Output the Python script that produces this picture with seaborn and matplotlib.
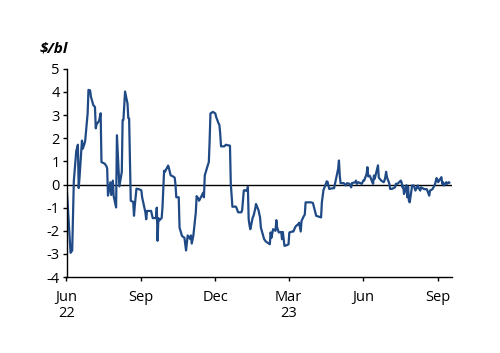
import matplotlib
matplotlib.use("Agg")
import matplotlib.pyplot as plt
import seaborn as sns
import pandas as pd

dates = [
    "2022-06-01", "2022-06-03", "2022-06-06", "2022-06-08", "2022-06-10", "2022-06-13",
    "2022-06-15", "2022-06-16", "2022-06-17", "2022-06-20", "2022-06-21", "2022-06-23",
    "2022-06-24", "2022-06-27", "2022-06-28", "2022-06-30", "2022-07-01", "2022-07-04",
    "2022-07-06", "2022-07-07", "2022-07-08", "2022-07-11", "2022-07-13", "2022-07-14",
    "2022-07-18", "2022-07-20", "2022-07-21", "2022-07-22", "2022-07-25", "2022-07-26",
    "2022-07-28", "2022-07-29", "2022-08-01", "2022-08-02", "2022-08-04", "2022-08-05",
    "2022-08-08", "2022-08-09", "2022-08-10", "2022-08-12", "2022-08-15", "2022-08-16",
    "2022-08-17", "2022-08-19", "2022-08-22", "2022-08-23", "2022-08-24", "2022-08-26",
    "2022-08-29", "2022-09-01", "2022-09-02", "2022-09-06", "2022-09-07", "2022-09-08",
    "2022-09-13", "2022-09-15", "2022-09-19", "2022-09-20", "2022-09-21", "2022-09-22",
    "2022-09-23", "2022-09-26", "2022-09-27", "2022-09-29", "2022-09-30", "2022-10-03",
    "2022-10-04", "2022-10-05", "2022-10-07", "2022-10-10", "2022-10-12", "2022-10-13",
    "2022-10-14", "2022-10-17", "2022-10-18", "2022-10-20", "2022-10-21", "2022-10-24",
    "2022-10-25", "2022-10-26", "2022-10-28", "2022-10-31", "2022-11-01", "2022-11-02",
    "2022-11-04", "2022-11-07", "2022-11-08", "2022-11-09", "2022-11-10", "2022-11-11",
    "2022-11-14", "2022-11-16", "2022-11-17", "2022-11-18", "2022-11-21", "2022-11-23",
    "2022-11-24", "2022-11-25", "2022-11-28", "2022-12-01", "2022-12-02", "2022-12-05",
    "2022-12-06", "2022-12-07", "2022-12-08", "2022-12-12", "2022-12-14", "2022-12-16",
    "2022-12-19", "2022-12-20", "2022-12-22", "2022-12-26", "2022-12-27", "2022-12-29",
    "2023-01-02", "2023-01-03", "2023-01-05", "2023-01-06", "2023-01-09", "2023-01-10",
    "2023-01-11", "2023-01-12", "2023-01-13", "2023-01-16", "2023-01-17", "2023-01-19",
    "2023-01-20", "2023-01-23", "2023-01-25", "2023-01-26", "2023-01-30", "2023-02-01",
    "2023-02-06", "2023-02-07", "2023-02-08", "2023-02-10", "2023-02-13", "2023-02-14",
    "2023-02-15", "2023-02-17", "2023-02-20", "2023-02-21", "2023-02-22", "2023-02-24",
    "2023-02-27", "2023-03-01", "2023-03-02", "2023-03-06", "2023-03-07", "2023-03-09",
    "2023-03-10", "2023-03-13", "2023-03-14", "2023-03-16", "2023-03-17", "2023-03-20",
    "2023-03-21", "2023-03-22", "2023-03-29", "2023-03-31", "2023-04-04", "2023-04-10",
    "2023-04-11", "2023-04-13", "2023-04-14", "2023-04-17", "2023-04-18", "2023-04-20",
    "2023-04-24", "2023-04-26", "2023-04-28", "2023-05-01", "2023-05-02", "2023-05-03",
    "2023-05-04", "2023-05-08", "2023-05-10", "2023-05-12", "2023-05-15", "2023-05-17",
    "2023-05-18", "2023-05-22", "2023-05-23", "2023-05-24", "2023-05-26", "2023-05-30",
    "2023-06-01", "2023-06-02", "2023-06-05", "2023-06-06", "2023-06-07", "2023-06-09",
    "2023-06-12", "2023-06-13", "2023-06-14", "2023-06-15", "2023-06-19", "2023-06-20",
    "2023-06-23", "2023-06-26", "2023-06-27", "2023-06-28", "2023-06-29", "2023-06-30",
    "2023-07-03", "2023-07-04", "2023-07-06", "2023-07-10", "2023-07-11", "2023-07-13",
    "2023-07-17", "2023-07-18", "2023-07-19", "2023-07-20", "2023-07-21", "2023-07-24",
    "2023-07-25", "2023-07-26", "2023-07-27", "2023-07-28", "2023-07-31", "2023-08-02",
    "2023-08-04", "2023-08-07", "2023-08-08", "2023-08-10", "2023-08-11", "2023-08-15",
    "2023-08-18", "2023-08-21", "2023-08-22", "2023-08-25", "2023-08-28", "2023-08-30",
    "2023-08-31", "2023-09-01", "2023-09-05", "2023-09-06", "2023-09-07", "2023-09-08",
    "2023-09-11", "2023-09-12", "2023-09-14", "2023-09-15",
]
values = [
    0.0, -1.2, -2.95, -2.85, 0.15, 1.45,
    1.72, -0.15, 0.3, 1.9, 1.55, 1.75,
    1.9, 3.08, 4.09, 4.07, 3.8, 3.43,
    3.35, 2.43, 2.6, 2.75, 3.08, 0.97,
    0.9, 0.8, 0.7, -0.48, 0.1, -0.45,
    0.17, -0.5, -0.99, 2.13, 0.7, -0.08,
    0.55, 2.78, 2.8, 4.02, 3.5, 2.87,
    2.85, -0.7, -0.75, -1.35, -0.9, -0.18,
    -0.2, -0.25, -0.55, -1.2, -1.5, -1.14,
    -1.14, -1.45, -1.45, -1.0, -2.43, -1.45,
    -1.55, -1.45, -1.0, 0.6, 0.55, 0.75,
    0.82, 0.7, 0.4, 0.35, 0.3, 0.0,
    -0.55, -0.55, -1.86, -2.1, -2.22, -2.3,
    -2.57, -2.85, -2.2, -2.35, -2.2, -2.55,
    -2.2, -1.2, -0.5, -0.55, -0.6, -0.7,
    -0.5, -0.35, -0.55, 0.39, 0.75, 0.97,
    1.9, 3.07, 3.14, 3.07, 2.92, 2.64,
    2.57, 2.2, 1.65, 1.65, 1.72, 1.7,
    1.68, 0.04, -0.96, -0.95, -1.0, -1.2,
    -1.2, -1.1, -0.26, -0.24, -0.28, -0.1,
    -1.5, -1.75, -1.93, -1.42, -1.35, -1.06,
    -0.84, -1.1, -1.42, -1.86, -2.36, -2.46,
    -2.58, -2.07, -2.3, -1.93, -2.0, -1.54,
    -1.85, -2.07, -2.05, -2.36, -2.05, -2.65,
    -2.62, -2.58, -2.07, -2.03, -2.03, -1.86,
    -1.8, -1.71, -1.65, -2.03, -1.57, -1.35,
    -1.3, -0.77, -0.77, -0.8, -1.35, -1.42,
    -0.77, -0.23, -0.15, 0.14, 0.12, -0.19,
    -0.16, -0.16, 0.17, 0.68, 1.04, 0.38,
    0.06, 0.06, -0.04, 0.06, 0.03, -0.12,
    0.06, 0.1, 0.17, 0.03, 0.1, 0.03,
    0.17, 0.17, 0.46, 0.75, 0.35, 0.38,
    0.1, 0.03, 0.39, 0.25, 0.83, 0.3,
    0.17, 0.1, 0.17, 0.32, 0.55, 0.32,
    0.03, -0.19, -0.19, -0.12, 0.03, 0.03,
    0.17, 0.1, -0.12, -0.05, -0.41, -0.03,
    -0.55, -0.1, -0.7, -0.77, -0.04, -0.04,
    -0.26, -0.04, -0.15, -0.26, -0.12, -0.2,
    -0.2, -0.48, -0.26, -0.2, 0.0, 0.28,
    0.22, 0.1, 0.32, 0.03, 0.1, -0.04,
    0.1, 0.03, 0.1, 0.08,
]

tick_dates = ["2022-06-01", "2022-09-01", "2022-12-01", "2023-03-01", "2023-06-01", "2023-09-01"]
tick_labels = ["Jun\n22", "Sep", "Dec", "Mar\n23", "Jun", "Sep"]
y_ticks = [5, 4, 3, 2, 1, 0, -1, -2, -3, -4]
unit_label = r"\$/bl"

sns.set_style("white")
plt.rcParams["font.family"] = ["Open Sans", "DejaVu Sans"]

df = pd.DataFrame({"date": pd.to_datetime(dates), "value": values})

fig = plt.figure(figsize=(5.0, 3.53), dpi=100)
ax = fig.add_axes([0.133, 0.215, 0.771, 0.590])

ax.axhline(0, color="black", lw=1.0, zorder=1)
sns.lineplot(data=df, x="date", y="value", ax=ax, color="#1F4A86", lw=1.6, zorder=2)

ax.set_xlim(pd.Timestamp("2022-06-01"), pd.Timestamp("2023-09-18"))
ax.set_ylim(-4, 5)
ax.set_yticks(y_ticks)
ax.set_yticklabels([str(v) for v in y_ticks])
ax.set_xticks(pd.to_datetime(tick_dates))
ax.set_xticklabels(tick_labels, linespacing=1.15)
ax.set_xlabel("")
ax.set_ylabel("")

for s in ["top", "right"]:
    ax.spines[s].set_visible(False)
for s in ["left", "bottom"]:
    ax.spines[s].set_color("black")
    ax.spines[s].set_linewidth(1.0)

ax.tick_params(axis="y", which="major", direction="out", length=3, width=1.0,
               color="black", labelsize=10.5, labelcolor="black", pad=2, left=True)
ax.tick_params(axis="x", which="major", direction="out", length=3, width=1.0,
               color="black", labelsize=10.5, labelcolor="black", pad=6, bottom=True)

fig.text(0.08, 0.85, unit_label, fontsize=11, fontweight="bold", fontstyle="italic",
         ha="left", va="baseline", color="black")

fig.savefig("out.png", dpi=100)
